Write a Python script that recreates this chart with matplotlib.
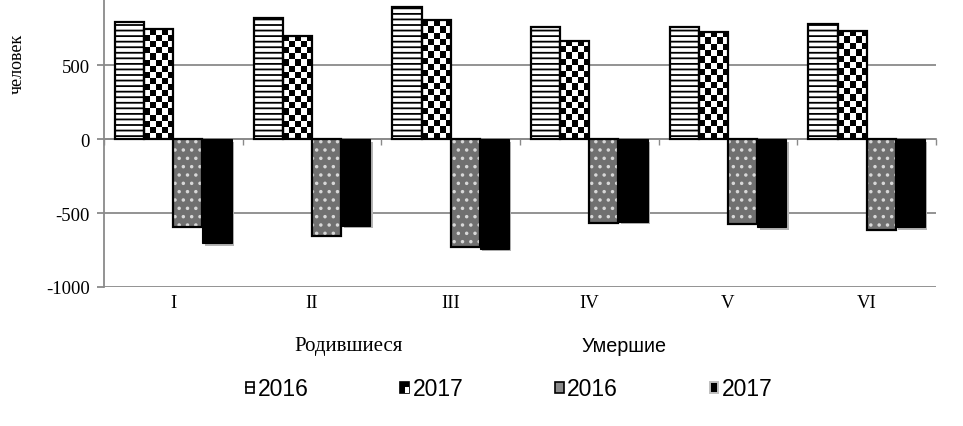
import numpy as np
import matplotlib
matplotlib.use('Agg')
import matplotlib.pyplot as plt
from matplotlib.patches import Patch, Rectangle
from matplotlib.lines import Line2D
from matplotlib.legend_handler import HandlerBase
from matplotlib import patheffects as pe

# Data (people)
periods = ['I', 'II', 'III', 'IV', 'V', 'VI']
births_2016 = [792, 815, 890, 755, 755, 777]
births_2017 = [743, 698, 802, 664, 725, 732]
deaths_2016 = [-597, -655, -730, -568, -574, -615]
deaths_2017 = [-703, -586, -743, -559, -597, -597]
legend_labels = ['2016', '2017', '2016', '2017']

serif = 'Liberation Serif'
sans = 'Liberation Sans'
plt.rcParams['hatch.linewidth'] = 1.3
plt.rcParams['axes.unicode_minus'] = False

fig = plt.figure(figsize=(9.63, 4.27), dpi=100)
ax = fig.add_axes([104 / 963, 1 - 288 / 427, (936 - 104) / 963, 288 / 427])

x = np.arange(len(periods))
w = 0.21
ymin, ymax = -1000, 946

# gridlines
ax.set_ylim(ymin, ymax)
ax.set_xlim(-0.5, len(periods) - 0.5)
ax.set_yticks([-1000, -500, 0, 500])
ax.yaxis.grid(True, color='#8a8a8a', lw=1.3, zorder=0)
ax.set_axisbelow(True)

# births 2016: horizontal lines
ax.bar(x - 1.5 * w, births_2016, w, facecolor='white', edgecolor='black',
       hatch='---', lw=0, zorder=2)
ax.bar(x - 1.5 * w, births_2016, w, fill=False, edgecolor='black', lw=1.6, zorder=4)

# births 2017: checkerboard
b17 = ax.bar(x - 0.5 * w, births_2017, w, facecolor='white', lw=0, zorder=2)
fig.canvas.draw()
for r in b17:
    x0, y0 = r.get_x(), r.get_y()
    x1, y1 = x0 + r.get_width(), y0 + r.get_height()
    p0 = ax.transData.transform((x0, y0))
    p1 = ax.transData.transform((x1, y1))
    nx = max(1, int(round(abs(p1[0] - p0[0]) / 6.2)))
    ny = max(1, int(round(abs(p1[1] - p0[1]) / 6.2)))
    board = (np.add.outer(np.arange(ny), np.arange(nx)) % 2).astype(float)
    im = ax.imshow(board, cmap='gray', extent=(x0, x1, y0, y1), aspect='auto',
                   interpolation='nearest', zorder=3, origin='lower')
    im.set_clip_path(r)
ax.bar(x - 0.5 * w, births_2017, w, fill=False, edgecolor='black', lw=1.6, zorder=4)

# deaths 2016: grey with white dots
ax.bar(x + 0.5 * w, deaths_2016, w, facecolor='#707070', edgecolor='#d8d8d8',
       hatch='..', lw=0, zorder=2)
ax.bar(x + 0.5 * w, deaths_2016, w, fill=False, edgecolor='black', lw=1.6, zorder=4)

# deaths 2017: black with shadow
ax.bar(x + 1.5 * w, deaths_2017, w, facecolor='black', edgecolor='black', lw=0.8,
       zorder=3, path_effects=[pe.SimplePatchShadow(offset=(1.8, -1.8),
                                                    shadow_rgbFace='#b5b5b5', alpha=1),
                               pe.Normal()])

ax.set_xlim(-0.5, len(periods) - 0.5)
ax.set_ylim(ymin, ymax)

# axes styling
for s in ['top', 'right']:
    ax.spines[s].set_visible(False)
ax.spines['left'].set_color('#8a8a8a')
ax.spines['left'].set_linewidth(1.3)
ax.spines['bottom'].set_position(('data', 0))
ax.spines['bottom'].set_color('#8a8a8a')
ax.spines['bottom'].set_linewidth(1.3)
ax.set_xticks(np.arange(len(periods) + 1) - 0.5)
ax.set_xticklabels([])
ax.tick_params(axis='x', direction='out', length=4, color='#8a8a8a', width=1)
ax.tick_params(axis='y', length=5, color='#8a8a8a', width=1.3, pad=5)
for lab in ax.get_yticklabels():
    lab.set_fontfamily(serif)
    lab.set_fontsize(13.5)

for xi, p in zip(x, periods):
    ax.text(xi, -0.055, p, transform=ax.get_xaxis_transform(), ha='center', va='center',
            fontfamily=serif, fontsize=13.5)

fig.text(17 / 963, 1 - 64 / 427, 'человек', rotation=90, ha='center', va='center',
         fontfamily=serif, fontsize=13)
fig.text(349 / 963, 1 - 347 / 427, 'Родившиеся', ha='center', va='center',
         fontfamily=serif, fontsize=15)
fig.text(624 / 963, 1 - 347 / 427, 'Умершие', ha='center', va='center',
         fontfamily=sans, fontsize=14.2)


class BoxHandler(HandlerBase):
    def __init__(self, kind):
        super().__init__()
        self.kind = kind

    def create_artists(self, legend, orig_handle, xd, yd, width, height, fontsize, trans):
        x0, y0 = -xd, -yd
        arts = []
        if self.kind == 'lines':
            arts.append(Rectangle((x0, y0), width, height, fc='white', ec='black', lw=1.2))
            arts.append(Line2D([x0, x0 + width], [y0 + height / 2] * 2, color='black', lw=1.2))
        elif self.kind == 'checker':
            arts.append(Rectangle((x0, y0), width, height, fc='black', ec='black', lw=1.2))
            arts.append(Rectangle((x0 + width / 2, y0), width / 2, height / 2, fc='white', lw=0))
        elif self.kind == 'grey':
            arts.append(Rectangle((x0, y0), width, height, fc='#8a8a8a', ec='black', lw=1.2))
        else:
            arts.append(Rectangle((x0, y0), width, height, fc='black', ec='#c0c0c0', lw=1.4))
        for a in arts:
            a.set_transform(trans)
        return arts


handles = [Patch(), Patch(), Patch(), Patch()]
kinds = ['lines', 'checker', 'grey', 'black']
leg = fig.legend(handles, legend_labels, loc='center', bbox_to_anchor=(509 / 963, 1 - 390 / 427),
                 ncol=4, frameon=False, prop={'family': sans, 'size': 16.5},
                 handlelength=0.38, handleheight=0.38, handletextpad=0.15,
                 columnspacing=4.0, borderpad=0,
                 handler_map={h: BoxHandler(k) for h, k in zip(handles, kinds)})

fig.savefig('out.png', dpi=100)
